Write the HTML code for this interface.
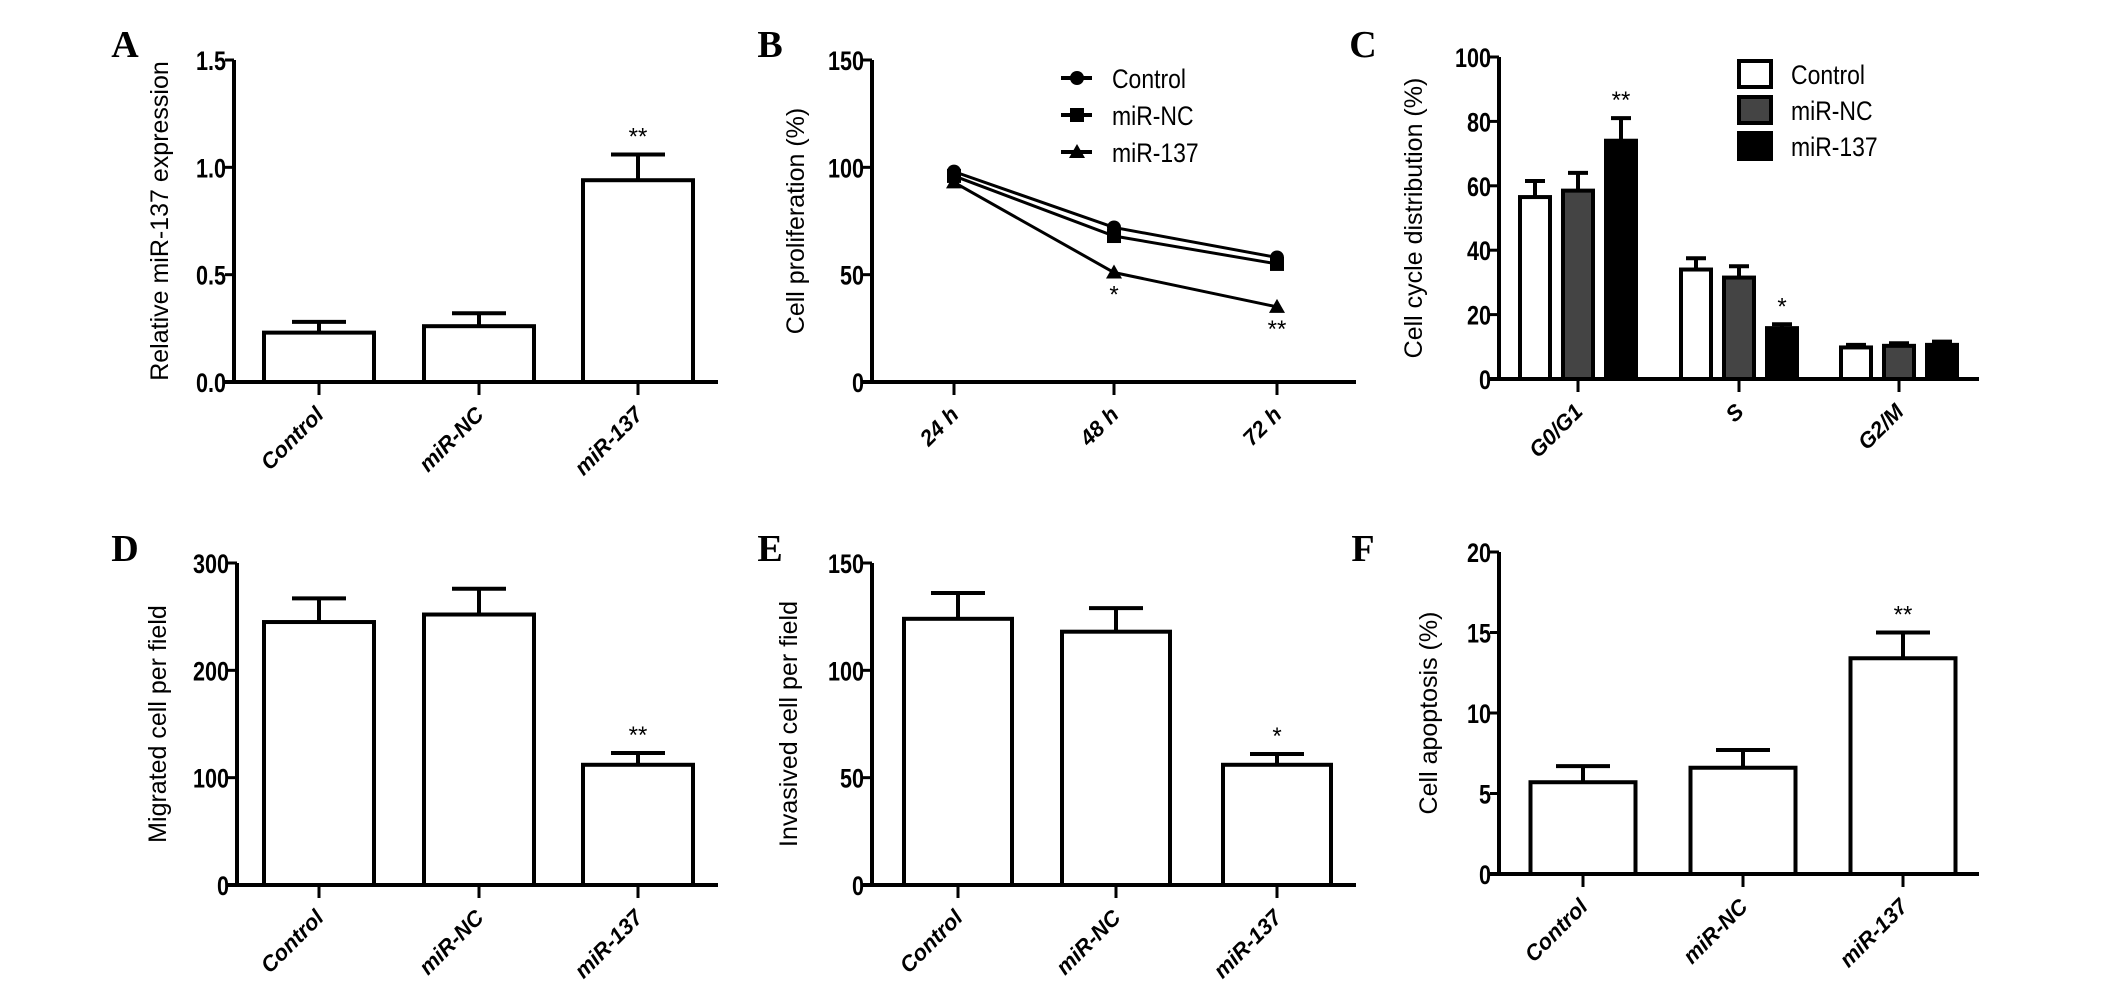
<!DOCTYPE html>
<html><head><meta charset="utf-8">
<style>
html,body{margin:0;padding:0;background:#fff;overflow:hidden;}
svg{display:block;}
.tick{font-family:"Liberation Sans Narrow","Liberation Sans",sans-serif;font-weight:bold;font-size:27px;}
.cat{font-family:"Liberation Sans",sans-serif;font-weight:bold;font-style:italic;font-size:22px;}
.ttl{font-family:"Liberation Sans",sans-serif;font-size:25px;}
.lbl{font-family:"Liberation Serif",serif;font-weight:bold;font-size:38px;}
.leg{font-family:"Liberation Sans Narrow","Liberation Sans",sans-serif;font-size:27px;}
.star{font-family:"Liberation Sans",sans-serif;font-size:24px;}
</style></head>
<body>
<svg id="fig" width="2126" height="984" viewBox="0 0 2126 984" xmlns="http://www.w3.org/2000/svg"></svg>
<script>
const groups = ["Control","miR-NC","miR-137"];
// Panel A
const aValues = [0.23, 0.26, 0.94];
const aErrTop = [0.28, 0.32, 1.06];
const aTicks = ["0.0","0.5","1.0","1.5"];
const aTickVals = [0, 0.5, 1.0, 1.5];
const aStars = ["", "", "**"];
// Panel B
const bTimes = ["24 h","48 h","72 h"];
const bControl = [98, 72, 58];
const bNC = [96, 68, 55];
const b137 = [93, 51, 35];
const bStars = ["", "*", "**"];
const bTicks = ["0","50","100","150"];
const bTickVals = [0, 50, 100, 150];
// Panel C
const cPhases = ["G0/G1","S","G2/M"];
const cControl = [56.5, 34, 9.8];
const cNC = [58.5, 31.5, 10.3];
const c137 = [74, 15.8, 10.6];
const cControlErr = [61.5, 37.5, 10.6];
const cNCErr = [64, 35, 11.1];
const c137Err = [81, 17, 11.6];
const c137Stars = ["**", "*", ""];
const cTicks = ["0","20","40","60","80","100"];
const cTickVals = [0, 20, 40, 60, 80, 100];
// Panel D
const dValues = [245, 252, 112];
const dErrTop = [267, 276, 123];
const dStars = ["", "", "**"];
const dTicks = ["0","100","200","300"];
const dTickVals = [0, 100, 200, 300];
// Panel E
const eValues = [124, 118, 56];
const eErrTop = [136, 129, 61];
const eStars = ["", "", "*"];
const eTicks = ["0","50","100","150"];
const eTickVals = [0, 50, 100, 150];
// Panel F
const fValues = [5.7, 6.6, 13.4];
const fErrTop = [6.7, 7.7, 15.0];
const fStars = ["", "", "**"];
const fTicks = ["0","5","10","15","20"];
const fTickVals = [0, 5, 10, 15, 20];

const svg = document.getElementById('fig');
const NS = "http://www.w3.org/2000/svg";
function el(tag, attrs, parent) {
  const e = document.createElementNS(NS, tag);
  for (const k in attrs) e.setAttribute(k, attrs[k]);
  (parent || svg).appendChild(e);
  return e;
}
function txt(str, attrs, parent) { const t = el('text', attrs, parent); t.textContent = str; return t; }

function axes(g, x0, x1, yTop, y0, max, ticks, tickVals, cats, catX, title, titleX, letter, letterX, letterY) {
  const ys = v => y0 - (v / max) * (y0 - yTop);
  const ya = el('line', {x1:x0, y1:yTop, x2:x0, y2:y0, stroke:'#000','stroke-width':4}, g);
  
  
  const xa = el('line', {x1:x0-10, y1:y0, x2:x1, y2:y0, stroke:'#000','stroke-width':4}, g);
  
  
  tickVals.forEach((v, i) => {
    el('line', {x1:x0-9, y1:ys(v), x2:x0, y2:ys(v), stroke:'#000','stroke-width':3}, g);
    const t = txt(ticks[i], {x:x0-8, y:ys(v)+10, 'text-anchor':'end', class:'tick', transform:`translate(${x0-8},0) scale(0.8,1) translate(${-(x0-8)},0)`}, g);
    
    
  });
  cats.forEach((c, i) => {
    const cx = catX[i];
    el('line', {x1:cx, y1:y0, x2:cx, y2:y0+13, stroke:'#000','stroke-width':3}, g);
    const t = txt(c, {x:cx+6, y:y0+34, 'text-anchor':'end', class:'cat', transform:`rotate(-45 ${cx+6} ${y0+34})`}, g);
    
    
  });
  const tc = (yTop + y0) / 2;
  const tt = txt(title, {x:titleX, y:tc, 'text-anchor':'middle', class:'ttl', transform:`rotate(-90 ${titleX} ${tc})`}, g);
  
  
  const lt = txt(letter, {x:letterX, y:letterY, 'text-anchor':'middle', class:'lbl'}, g);
  
  
  return ys;
}

function barPanel(name, x0, x1, yTop, y0, max, ticks, tickVals, catX, bw, vals, errs, stars, title, titleX, letter, letterX, letterY) {
  const g = el('g', {});
  
  
  const ys = axes(g, x0, x1, yTop, y0, max, ticks, tickVals, groups, catX, title, titleX, letter, letterX, letterY);
  vals.forEach((v, i) => {
    const cx = catX[i];
    const eb = el('path', {d:`M${cx} ${ys(v)} V${ys(errs[i])} M${cx-27} ${ys(errs[i])} H${cx+27}`, stroke:'#000','stroke-width':4, fill:'none'}, g);
    
    
    const r = el('rect', {x:cx-bw/2, y:ys(v), width:bw, height:y0-ys(v), fill:'#fff', stroke:'#000','stroke-width':4}, g);
    
    
    if (stars[i]) {
      const s = txt(stars[i], {x:cx, y:ys(errs[i]) - 10, 'text-anchor':'middle', class:'star'}, g);
      
      
    }
  });
}

barPanel('panel-a', 234, 718, 60, 382, 1.5, aTicks, aTickVals, [319,479,638], 110, aValues, aErrTop, aStars, 'Relative miR-137 expression', 168, 'A', 125, 57);
barPanel('panel-d', 237, 718, 563, 885, 300, dTicks, dTickVals, [319,479,638], 110, dValues, dErrTop, dStars, 'Migrated cell per field', 166, 'D', 125, 561);
barPanel('panel-e', 872, 1356, 563, 885, 150, eTicks, eTickVals, [958,1116,1277], 108, eValues, eErrTop, eStars, 'Invasived cell per field', 797, 'E', 770, 561);
barPanel('panel-f', 1499, 1979, 552, 874, 20, fTicks, fTickVals, [1583,1743,1903], 105, fValues, fErrTop, fStars, 'Cell apoptosis (%)', 1437, 'F', 1363, 561);

// Panel B line chart
(function(){
  const g = el('g', {});
  
  
  const catX = [954,1114,1277];
  const ys = axes(g, 872, 1356, 60, 382, 150, bTicks, bTickVals, bTimes, catX, 'Cell proliferation (%)', 804, 'B', 770, 57);
  const series = [[bControl,'circle','Control'],[bNC,'square','miR-NC'],[b137,'triangle','miR-137']];
  function marker(type, x, y, parent) {
    let m;
    if (type === 'circle') m = el('circle', {cx:x, cy:y, r:7, fill:'#000'}, parent);
    else if (type === 'square') m = el('rect', {x:x-7, y:y-7, width:14, height:14, fill:'#000'}, parent);
    else m = el('path', {d:`M${x} ${y-8} L${x+8} ${y+6} L${x-8} ${y+6} Z`, fill:'#000'}, parent);
    return m;
  }
  series.forEach((s, si) => {
    const pts = s[0].map((v, i) => `${catX[i]},${ys(v)}`).join(' ');
    const pl = el('polyline', {points:pts, fill:'none', stroke:'#000','stroke-width':3}, g);
    
    
    s[0].forEach((v, i) => {
      const m = marker(s[1], catX[i], ys(v), g);
      
      
    });
    const ly = 78 + si * 37;
    const lg = el('g', {}, g);
    
    
    el('line', {x1:1061, y1:ly, x2:1092, y2:ly, stroke:'#000','stroke-width':4}, lg);
    marker(s[1], 1077, ly, lg);
    txt(s[2], {x:1112, y:ly+10, class:'leg', transform:`translate(1112,0) scale(0.85,1) translate(-1112,0)`}, lg);
  });
  bStars.forEach((st, i) => {
    if (!st) return;
    const s = txt(st, {x:catX[i], y:ys(b137[i]) + 30, 'text-anchor':'middle', class:'star'}, g);
    
    
  });
})();

// Panel C grouped bars
(function(){
  const g = el('g', {});
  
  
  const catX = [1578,1739,1899];
  const ys = axes(g, 1499, 1979, 57, 379, 100, cTicks, cTickVals, cPhases, catX, 'Cell cycle distribution (%)', 1422, 'C', 1363, 57);
  const series = [[cControl,cControlErr,'#fff','Control'],[cNC,cNCErr,'#444','miR-NC'],[c137,c137Err,'#000','miR-137']];
  const bw = 30, step = 43;
  series.forEach((s, si) => {
    catX.forEach((cx0, i) => {
      const cx = cx0 + (si - 1) * step;
      const v = s[0][i], e = s[1][i];
      const eb = el('path', {d:`M${cx} ${ys(v)} V${ys(e)} M${cx-10} ${ys(e)} H${cx+10}`, stroke:'#000','stroke-width':4, fill:'none'}, g);
      
      
      const r = el('rect', {x:cx-bw/2, y:ys(v), width:bw, height:379-ys(v), fill:s[2], stroke:'#000','stroke-width':4}, g);
      
      
      if (si === 2 && c137Stars[i]) {
        const st = txt(c137Stars[i], {x:cx, y:ys(e) - 10, 'text-anchor':'middle', class:'star'}, g);
        
        
      }
    });
    const ly = 74 + si * 36;
    const lg = el('g', {}, g);
    
    
    el('rect', {x:1739, y:ly-13, width:32, height:26, fill:s[2], stroke:'#000','stroke-width':4}, lg);
    txt(s[3], {x:1791, y:ly+10, class:'leg', transform:`translate(1791,0) scale(0.85,1) translate(-1791,0)`}, lg);
  });
})();
</script>
</body></html>
